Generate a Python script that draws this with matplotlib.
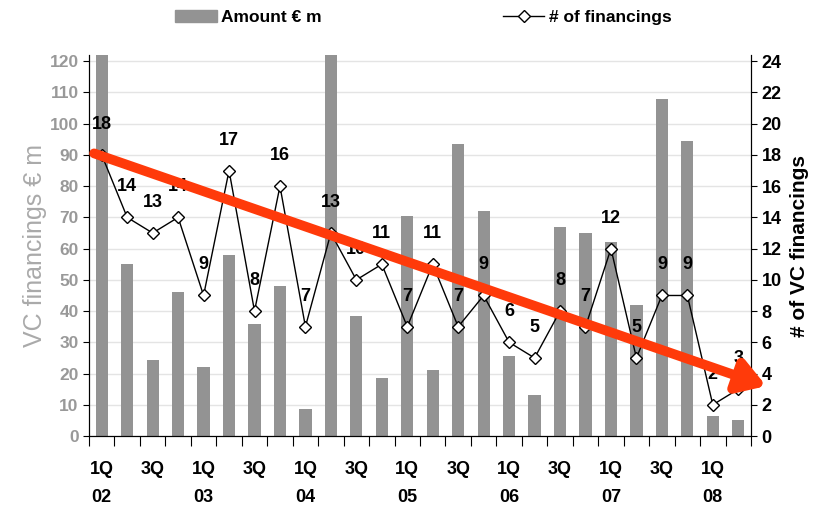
import numpy as np
import matplotlib.pyplot as plt
from matplotlib.patches import Patch
from matplotlib.lines import Line2D

plt.rcParams['font.family'] = ['Liberation Sans', 'DejaVu Sans']
plt.rcParams['font.weight'] = 'bold'

# quarters 1Q02 .. 2Q08
quarters = ['1Q\n02', '2Q', '3Q', '4Q', '1Q\n03', '2Q', '3Q', '4Q',
            '1Q\n04', '2Q', '3Q', '4Q', '1Q\n05', '2Q', '3Q', '4Q',
            '1Q\n06', '2Q', '3Q', '4Q', '1Q\n07', '2Q', '3Q', '4Q',
            '1Q\n08', '2Q']
amount = [130, 55, 24.5, 46, 22, 58, 36, 48, 8.5, 130, 38.5, 18.5, 70.5, 21,
          93.5, 72, 25.5, 13, 67, 65, 62, 42, 108, 94.5, 6.5, 5]
n_fin = [18, 14, 13, 14, 9, 17, 8, 16, 7, 13, 10, 11, 7, 11, 7, 9,
         6, 5, 8, 7, 12, 5, 9, 9, 2, 3]
trend_start = (-0.3, 18.1)
trend_end = (26.1, 3.2)

gray = '#939393'
x = np.arange(len(quarters))

fig = plt.figure(figsize=(8.28, 5.07), dpi=100)
ax = fig.add_axes([0.1075, 0.14, 0.7995, 0.7515])
ax2 = ax.twinx()

ax.bar(x, amount, width=0.48, color=gray, zorder=2)
ax.set_ylim(0, 122)
ax.set_xlim(-0.5, len(quarters) - 0.5)
ax.set_yticks(range(0, 121, 10))
ax.grid(axis='y', color='#e4e4e4', linewidth=1, zorder=0)
ax.set_axisbelow(True)
ax.tick_params(axis='y', colors='#999999', labelsize=12.5, length=4)
ax.tick_params(axis='y', color='black')
ax.set_ylabel('VC financings € m', color='#aaaaaa', fontsize=18,
              fontweight='normal', labelpad=2)

# x ticks at boundaries, labels at centers of odd quarters
ax.set_xticks(np.arange(len(quarters) + 1) - 0.5)
ax.set_xticklabels([])
ax.tick_params(axis='x', length=7, direction='out')
for i, q in enumerate(quarters):
    if i % 2 == 0:
        ax.text(i, -0.065, q, transform=ax.get_xaxis_transform(),
                ha='center', va='top', fontsize=13, linespacing=1.85)

for s in ['top']:
    ax.spines[s].set_visible(False)
    ax2.spines[s].set_visible(False)

ax2.plot(x, n_fin, color='black', linewidth=1, marker='D', markersize=6,
         markerfacecolor='white', markeredgecolor='black', zorder=3)
ax2.set_ylim(0, 24.4)
ax2.set_yticks(range(0, 25, 2))
ax2.tick_params(axis='y', labelsize=13, length=4)
ax2.set_ylabel('# of VC financings', fontsize=15, fontweight='bold', labelpad=6)
for i, v in enumerate(n_fin):
    ax2.annotate(str(v), (i, v), xytext=(0, 22), textcoords='offset points',
                 ha='center', va='center', fontsize=13)

ax2.annotate('', xy=trend_end, xytext=trend_start, annotation_clip=False,
             arrowprops=dict(arrowstyle='-|>,head_length=1.6,head_width=1.0',
                             color='#ff3a0a', lw=7, shrinkA=0, shrinkB=0),
             zorder=4)

handles = [Patch(color=gray), Line2D([], [], color='black', lw=1, marker='D',
                                     markersize=6, markerfacecolor='white')]
fig.legend(handles[:1], ['Amount € m'], loc='center', bbox_to_anchor=(0.30, 0.966),
           frameon=False, fontsize=12.5, handlelength=2.4, handletextpad=0.25)
fig.legend(handles[1:], ['# of financings'], loc='center', bbox_to_anchor=(0.709, 0.966),
           frameon=False, fontsize=12.5, handlelength=2.4, handletextpad=0.25)

fig.savefig('out.png', dpi=100)
